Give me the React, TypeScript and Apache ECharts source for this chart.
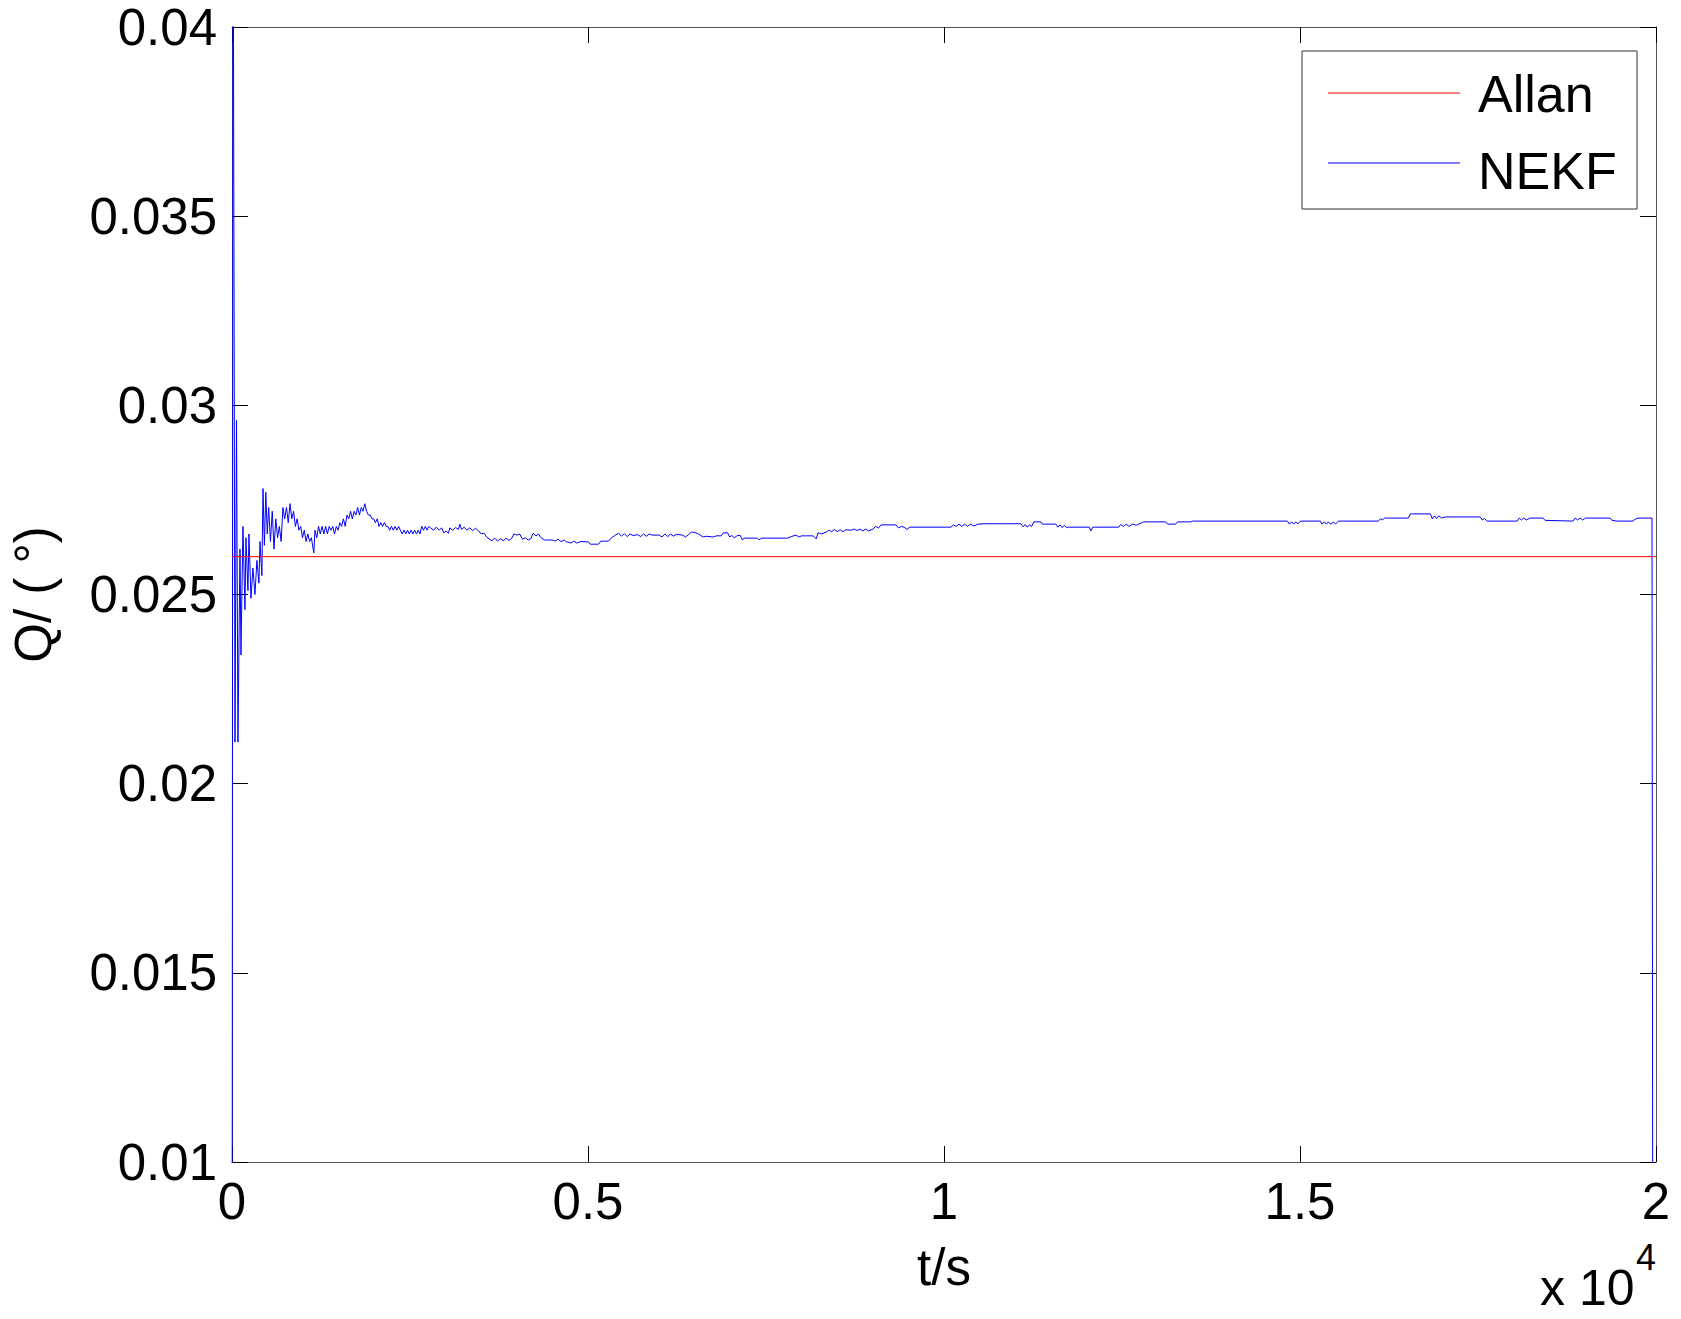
import React, { useEffect, useRef } from "react";
import * as echarts from "echarts";

const FONT = "'Liberation Sans', Arial, Helvetica, sans-serif";

const xTickLabels = ["0", "0.5", "1", "1.5", "2"];
const yTickLabels = ["0.01", "0.015", "0.02", "0.025", "0.03", "0.035", "0.04"];
const legendNames = ["Allan", "NEKF"];

const allanTime = [0, 20000];
const allanValue = [0.026, 0.026];

const nekfEarly: [number, number][] = [
  [0, 0.0], [14, 0.046], [42, 0.0211], [63, 0.0296], [84, 0.0211], [112, 0.0262], [126, 0.0234],
  [154, 0.0268], [182, 0.0246], [196, 0.0265], [224, 0.0251], [238, 0.0266], [266, 0.0249],
  [294, 0.0257], [322, 0.025], [350, 0.0259], [378, 0.0253], [393, 0.0264], [420, 0.0255],
  [435, 0.0278], [455, 0.0263], [475, 0.0277], [495, 0.0266], [515, 0.0273], [540, 0.0264],
  [565, 0.0272], [590, 0.0262], [615, 0.027], [640, 0.0265], [665, 0.0268], [690, 0.0264],
  [715, 0.0273], [740, 0.027], [765, 0.0273], [790, 0.0269], [815, 0.0274], [840, 0.027],
  [865, 0.0272], [890, 0.0268], [915, 0.027], [940, 0.0267], [965, 0.0268], [990, 0.0265],
  [1015, 0.0267], [1040, 0.0264], [1065, 0.0266], [1090, 0.0264], [1115, 0.0265], [1140, 0.0262],
  [1150, 0.0261], [1165, 0.0267], [1190, 0.0265], [1215, 0.0268], [1240, 0.0266], [1265, 0.0268],
  [1290, 0.0266], [1315, 0.0268], [1340, 0.0266], [1365, 0.0268], [1390, 0.0267], [1415, 0.0268],
  [1440, 0.0266], [1465, 0.0268], [1490, 0.0267], [1515, 0.0269], [1540, 0.0268], [1565, 0.027],
  [1590, 0.0268], [1615, 0.0271], [1640, 0.027], [1665, 0.0272], [1690, 0.027], [1715, 0.0272],
  [1740, 0.0271], [1765, 0.0273], [1790, 0.0271], [1815, 0.0273], [1840, 0.0272], [1865, 0.0274],
  [1890, 0.0272], [1915, 0.0271], [1940, 0.0271], [1965, 0.027], [1990, 0.027], [2015, 0.0269],
  [2040, 0.027], [2065, 0.0268], [2090, 0.0269], [2115, 0.0268], [2140, 0.0269], [2165, 0.0268],
  [2190, 0.0268], [2215, 0.0267], [2240, 0.0268], [2265, 0.0267], [2290, 0.0268], [2315, 0.0267],
  [2340, 0.0268], [2365, 0.0267], [2390, 0.0266], [2415, 0.0267], [2440, 0.0266], [2465, 0.0267],
  [2490, 0.0266], [2515, 0.0267], [2540, 0.0266], [2565, 0.0267], [2590, 0.0266], [2615, 0.0267],
  [2640, 0.0266], [2665, 0.0268], [2690, 0.0267], [2715, 0.0268], [2740, 0.0267], [2765, 0.0268],
];

const nekfMiddle: [number, number][] = [
  [2790, 0.02676], [2830, 0.0267], [2870, 0.02678], [2910, 0.0267], [2945, 0.02676],
  [2975, 0.02663], [3005, 0.02668], [3040, 0.02662],
  [3060, 0.02676], [3100, 0.0267], [3140, 0.02677], [3180, 0.02672],
  [3200, 0.02686], [3225, 0.02672], [3260, 0.02678], [3300, 0.0267], [3340, 0.02676], [3380, 0.02669],
  [3420, 0.02675], [3464, 0.02668],
  [3500, 0.0266], [3540, 0.02662], [3576, 0.02652],
  [3610, 0.02647], [3650, 0.02642], [3690, 0.02649], [3730, 0.02641], [3770, 0.02648], [3810, 0.02642],
  [3850, 0.02649], [3890, 0.02643], [3927, 0.02648],
  [3960, 0.0266], [4000, 0.02657], [4040, 0.0266],
  [4080, 0.02646], [4120, 0.0265], [4160, 0.02644], [4200, 0.02648],
  [4230, 0.02662], [4270, 0.02655], [4305, 0.0266],
  [4340, 0.0265], [4390, 0.02644], [4500, 0.02644], [4540, 0.02641], [4580, 0.02646], [4620, 0.0264],
  [4670, 0.02644],
  [4700, 0.02639], [4760, 0.02636], [4800, 0.02641], [4840, 0.02636], [4900, 0.0264], [5007, 0.02639],
  [5030, 0.02633], [5147, 0.02633],
  [5180, 0.02641], [5287, 0.02641],
  [5330, 0.0265], [5370, 0.02655], [5428, 0.02662],
  [5470, 0.02654], [5510, 0.02661], [5550, 0.02653], [5590, 0.0266], [5630, 0.02656], [5700, 0.02658],
  [5740, 0.02653], [5780, 0.0266], [5820, 0.02654], [5860, 0.0266], [5900, 0.02657], [6000, 0.02657],
  [6040, 0.02652], [6080, 0.0266], [6120, 0.02653], [6160, 0.0266], [6200, 0.02654], [6240, 0.02659],
  [6330, 0.02657], [6370, 0.02652], [6410, 0.02658], [6451, 0.02665], [6500, 0.02664], [6550, 0.0266],
  [6620, 0.02652], [6660, 0.02654], [6760, 0.02652], [6800, 0.02655], [6872, 0.02655],
  [6900, 0.02663], [6960, 0.02663],
  [6990, 0.02652], [7020, 0.02656], [7055, 0.0265],
  [7100, 0.02656], [7140, 0.02656],
  [7168, 0.02644], [7190, 0.02649], [7380, 0.02649], [7406, 0.02644], [7430, 0.02649], [7800, 0.02649],
  [7854, 0.02653], [7920, 0.02657], [7960, 0.02652], [8000, 0.02655], [8163, 0.02655], [8205, 0.02647],
  [8230, 0.02663], [8280, 0.0266], [8345, 0.02665],
  [8387, 0.0267], [8420, 0.02666], [8460, 0.02672], [8500, 0.02666], [8540, 0.02671], [8580, 0.02666],
  [8620, 0.02671], [8696, 0.0267],
  [8740, 0.02673], [8780, 0.02669], [8820, 0.02673], [8860, 0.02668], [8900, 0.02673], [8940, 0.02668],
  [9004, 0.02673],
  [9040, 0.0268], [9080, 0.02676], [9116, 0.02684],
  [9326, 0.02684], [9360, 0.02676], [9400, 0.0268], [9438, 0.02678],
  [9480, 0.02672], [9520, 0.02678], [10098, 0.02678],
  [10133, 0.02684], [10170, 0.0268], [10210, 0.02686], [10250, 0.0268], [10290, 0.02686], [10330, 0.0268],
  [10370, 0.02686], [10420, 0.02681], [10477, 0.02686],
  [10561, 0.02687], [10799, 0.02687],
];

const nekfLate: [number, number][] = [
  [11080, 0.02687], [11110, 0.02679], [11140, 0.02685], [11170, 0.02678], [11200, 0.02684], [11230, 0.0268],
  [11263, 0.02692], [11360, 0.02692], [11380, 0.02686], [11571, 0.02686],
  [11600, 0.02678], [11630, 0.02684], [11660, 0.02677], [11690, 0.02683], [11720, 0.02677], [11753, 0.02678],
  [12040, 0.02678], [12062, 0.02668], [12090, 0.02678], [12454, 0.02678],
  [12480, 0.02685], [12520, 0.0268], [12560, 0.02686], [12600, 0.0268], [12650, 0.02686], [12700, 0.02683],
  [12805, 0.02692], [13113, 0.02692], [13140, 0.02686], [13253, 0.02686], [13280, 0.02692], [13464, 0.02692],
  [13490, 0.02694], [14824, 0.02694],
  [14850, 0.02686], [14880, 0.02692], [14910, 0.02686], [14940, 0.02692], [14970, 0.02687], [15007, 0.02694],
  [15287, 0.02694], [15310, 0.02686], [15340, 0.02692], [15370, 0.02686], [15400, 0.02692], [15430, 0.02686],
  [15470, 0.02691], [15500, 0.02687], [15540, 0.02694],
  [16101, 0.02694], [16130, 0.027], [16160, 0.02697], [16185, 0.02702], [16520, 0.02702],
  [16550, 0.02713], [16830, 0.02713], [16860, 0.027], [16890, 0.02708], [16920, 0.02701], [16950, 0.02708],
  [16990, 0.02702], [17040, 0.02705], [17531, 0.02705],
  [17560, 0.02697], [17590, 0.02701], [17629, 0.02694], [18050, 0.02694],
  [18080, 0.02702], [18110, 0.02697], [18140, 0.02702], [18180, 0.02697], [18232, 0.02702], [18414, 0.02702],
  [18442, 0.02696], [18835, 0.02694],
  [18865, 0.02702], [18900, 0.02697], [18935, 0.02702], [18970, 0.02697], [19010, 0.02702], [19074, 0.02702],
  [19354, 0.02702], [19382, 0.02696], [19452, 0.02694], [19677, 0.02694],
  [19705, 0.02699], [19747, 0.02702], [19944, 0.02702], [19958, 0.0],
];

const nekfData = [...nekfEarly, ...nekfMiddle, ...nekfLate];
const allanData = allanTime.map((t, i) => [t, allanValue[i]]);

export default function App() {
  const ref = useRef<HTMLDivElement>(null);
  useEffect(() => {
    if (!ref.current) return;
    const chart = echarts.init(ref.current, undefined, { renderer: "svg" });
    const axisLine = { show: true, onZero: false, lineStyle: { color: "#555", width: 1 } };
    const tick = { show: true, inside: true, length: 16, lineStyle: { color: "#000", width: 1 } };
    const txt = { fontFamily: FONT, color: "#000" };
    chart.setOption({
      animation: false,
      backgroundColor: "#fff",
      grid: { left: 230, right: 25, top: 27, bottom: 157, containLabel: false },
      xAxis: [
        {
          type: "value", position: "bottom", min: 0, max: 20000, interval: 5000,
          axisLine, axisTick: tick, splitLine: { show: false },
          axisLabel: {
            margin: 14, fontSize: 51, ...txt,
            formatter: (v: number) => xTickLabels[Math.round(v / 5000)] ?? "",
          },
          name: "t/s", nameLocation: "middle", nameGap: 80,
          nameTextStyle: { fontSize: 51, ...txt },
        },
        {
          type: "value", position: "top", min: 0, max: 20000, interval: 5000,
          axisLine, axisTick: tick, axisLabel: { show: false }, splitLine: { show: false },
        },
      ],
      yAxis: [
        {
          type: "value", position: "left", min: 0.01, max: 0.04, interval: 0.005,
          axisLine, axisTick: tick, splitLine: { show: false },
          axisLabel: {
            margin: 15, fontSize: 51, ...txt,
            formatter: (v: number) => yTickLabels[Math.round((v - 0.01) / 0.005)] ?? "",
          },
          name: "Q/ ( °)", nameLocation: "middle", nameGap: 173, nameRotate: 90,
          nameTextStyle: { fontSize: 51, ...txt },
        },
        {
          type: "value", position: "right", min: 0.01, max: 0.04, interval: 0.005,
          axisLine, axisTick: tick, axisLabel: { show: false }, splitLine: { show: false },
        },
      ],
      series: [
        {
          name: legendNames[1], type: "line", xAxisIndex: 0, yAxisIndex: 0,
          data: nekfData, showSymbol: false, symbol: "none", clip: true,
          lineStyle: { color: "#0000ff", width: 1 },
        },
        {
          name: legendNames[0], type: "line", xAxisIndex: 0, yAxisIndex: 0,
          data: allanData, showSymbol: false, symbol: "none", clip: true,
          lineStyle: { color: "#ff0000", width: 1 },
        },
      ],
      graphic: [
        {
          type: "rect", shape: { x: 1302, y: 51, width: 335, height: 158 },
          style: { fill: "#fff", stroke: "#333", lineWidth: 1 }, z: 100,
        },
        {
          type: "line", shape: { x1: 1328, y1: 93, x2: 1460, y2: 93 },
          style: { stroke: "#ff0000", lineWidth: 1 }, z: 101,
        },
        {
          type: "line", shape: { x1: 1328, y1: 163, x2: 1460, y2: 163 },
          style: { stroke: "#0000ff", lineWidth: 1 }, z: 101,
        },
        {
          type: "text", x: 1478, y: 94, z: 101,
          style: { text: legendNames[0], font: `52px ${FONT}`, fill: "#000", verticalAlign: "middle", align: "left" },
        },
        {
          type: "text", x: 1478, y: 171, z: 101,
          style: { text: legendNames[1], font: `52px ${FONT}`, fill: "#000", verticalAlign: "middle", align: "left" },
        },
        {
          type: "text", x: 1540, y: 1288, z: 101,
          style: { text: "x 10", font: `50px ${FONT}`, fill: "#000", verticalAlign: "middle", align: "left" },
        },
        {
          type: "text", x: 1636, y: 1257, z: 101,
          style: { text: "4", font: `36px ${FONT}`, fill: "#000", verticalAlign: "middle", align: "left" },
        },
      ],
    });
    return () => chart.dispose();
  }, []);
  return (
    <div
      ref={ref}
      style={{ position: "absolute", left: 0, top: 0, width: 1681, height: 1319, background: "#fff" }}
    />
  );
}
